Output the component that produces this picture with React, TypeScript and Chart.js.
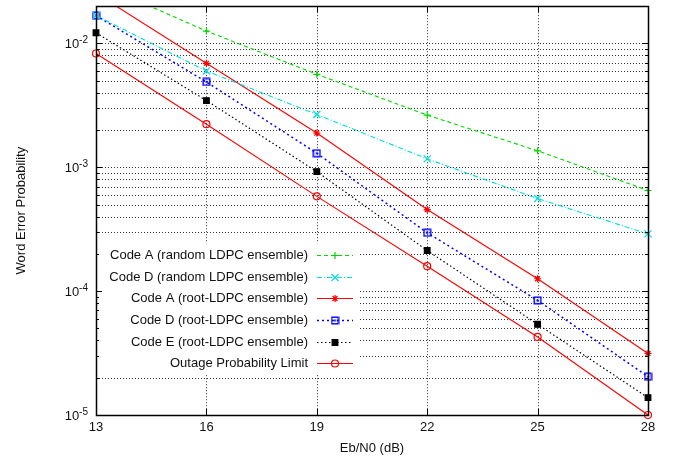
import React, { useEffect, useRef } from 'react';
import { Chart, registerables } from 'chart.js';
import { drawPoint } from 'chart.js/helpers';

Chart.register(...registerables);

// ---- data ----
const ebn0 = [13, 16, 19, 22, 25, 28];
const codeARandom = [0.031, 0.0126, 0.00564, 0.00264, 0.00136, 0.00065];
const codeDRandom = [0.0168, 0.006, 0.00267, 0.00117, 0.00056, 0.00029];
const codeARoot = [0.0254, 0.00692, 0.00189, 0.000456, 0.000126, 0.0000314];
const codeDRoot = [0.0168, 0.00489, 0.0013, 0.000296, 0.0000843, 0.0000204];
const codeERoot = [0.0122, 0.00346, 0.000923, 0.000213, 0.000054, 0.0000138];
const outageLimit = [0.0083, 0.00223, 0.000583, 0.000159, 0.0000427, 0.00001];

const seriesLabels = [
  'Code A (random LDPC ensemble)',
  'Code D (random LDPC ensemble)',
  'Code A (root-LDPC ensemble)',
  'Code D (root-LDPC ensemble)',
  'Code E (root-LDPC ensemble)',
  'Outage Probability Limit',
];

const xTickValues = [13, 16, 19, 22, 25, 28];
const xTickLabels = ['13', '16', '19', '22', '25', '28'];
const yDecades = [1e-5, 1e-4, 1e-3, 1e-2];
const yExponents = ['-5', '-4', '-3', '-2'];
const minorMultiples = [2, 3, 4, 5, 6, 7, 8, 9];
const xMin = 13;
const xMax = 28;
const yMin = 1e-5;
const yMax = 0.02;
const xTitle = 'Eb/N0 (dB)';
const yTitle = 'Word Error Probability';

const FONT = '"Liberation Sans", Arial, Helvetica, sans-serif';

function makeBoxDot(color: string) {
  const c = document.createElement('canvas');
  c.width = 9;
  c.height = 9;
  const g = c.getContext('2d')!;
  g.strokeStyle = color;
  g.lineWidth = 1.4;
  g.strokeRect(1.2, 1.2, 6.6, 6.6);
  g.fillStyle = color;
  g.fillRect(3.5, 3.5, 2, 2);
  return c;
}

const decorPlugin = {
  id: 'decor',
  beforeDatasetsDraw(chart: any) {
    const { ctx, chartArea: a, scales } = chart;
    const xs = scales.x;
    const ys = scales.y;
    ctx.save();
    ctx.strokeStyle = 'rgba(0,0,0,0.8)';
    ctx.lineWidth = 1;
    ctx.setLineDash([1, 2]);
    ctx.beginPath();
    for (const d of yDecades) {
      for (const m of [1, ...minorMultiples]) {
        const v = d * m;
        if (v <= yMin * 1.0001 || v >= yMax * 0.9999) continue;
        const py = Math.round(ys.getPixelForValue(v)) + 0.5;
        ctx.moveTo(a.left, py);
        ctx.lineTo(a.right, py);
      }
    }
    for (const v of xTickValues) {
      if (v <= xMin || v >= xMax) continue;
      const px = Math.round(xs.getPixelForValue(v)) + 0.5;
      ctx.moveTo(px, a.top);
      ctx.lineTo(px, a.bottom);
    }
    ctx.stroke();
    ctx.setLineDash([]);
    // opaque key box
    ctx.fillStyle = '#ffffff';
    ctx.fillRect(a.left + 1, a.top + 237, 263, 131);
    ctx.restore();
  },
  afterDraw(chart: any) {
    const { ctx, chartArea: a, scales } = chart;
    const xs = scales.x;
    const ys = scales.y;
    ctx.save();
    // frame
    ctx.strokeStyle = '#000';
    ctx.lineWidth = 1.5;
    ctx.strokeRect(Math.round(a.left) + 0.5, Math.round(a.top) + 0.5, Math.round(a.right - a.left), Math.round(a.bottom - a.top));
    // ticks
    ctx.lineWidth = 1;
    ctx.beginPath();
    for (const d of yDecades) {
      for (const m of [1, ...minorMultiples]) {
        const v = d * m;
        if (v > yMax * 1.0001) continue;
        const len = m === 1 ? 6 : 3;
        const py = Math.round(ys.getPixelForValue(v)) + 0.5;
        ctx.moveTo(a.left, py);
        ctx.lineTo(a.left + len, py);
        ctx.moveTo(a.right, py);
        ctx.lineTo(a.right - len, py);
      }
    }
    for (const v of xTickValues) {
      const px = Math.round(xs.getPixelForValue(v)) + 0.5;
      ctx.moveTo(px, a.bottom);
      ctx.lineTo(px, a.bottom - 6);
      ctx.moveTo(px, a.top);
      ctx.lineTo(px, a.top + 6);
    }
    ctx.stroke();

    ctx.fillStyle = '#111';
    // x tick labels
    ctx.font = `13px ${FONT}`;
    ctx.textAlign = 'center';
    ctx.textBaseline = 'middle';
    xTickValues.forEach((v, i) => {
      ctx.fillText(xTickLabels[i], xs.getPixelForValue(v), a.bottom + 12.5);
    });
    // y tick labels 10^n
    yDecades.forEach((v, i) => {
      const py = ys.getPixelForValue(v);
      const right = a.left - 8;
      ctx.font = `10px ${FONT}`;
      const ew = ctx.measureText(yExponents[i]).width;
      ctx.textAlign = 'left';
      ctx.fillText(yExponents[i], right - ew, py - 3);
      ctx.font = `13px ${FONT}`;
      ctx.textAlign = 'right';
      ctx.fillText('10', right - ew, py + 1);
    });
    // axis titles
    ctx.font = `13px ${FONT}`;
    ctx.textAlign = 'center';
    ctx.fillText(xTitle, (a.left + a.right) / 2, a.bottom + 33.5);
    ctx.save();
    ctx.translate(21, (a.top + a.bottom) / 2);
    ctx.rotate(-Math.PI / 2);
    ctx.fillText(yTitle, 0, 0);
    ctx.restore();

    // key
    const textRight = a.left + 212;
    const lineStart = a.left + 221;
    const lineEnd = a.left + 257;
    const markX = a.left + 239;
    chart.data.datasets.forEach((ds: any, i: number) => {
      const y = a.top + 249 + i * 21.6;
      ctx.fillStyle = '#111';
      ctx.font = `13px ${FONT}`;
      ctx.textAlign = 'right';
      ctx.textBaseline = 'middle';
      ctx.fillText(ds.label, textRight, y + 0.5);
      ctx.save();
      ctx.strokeStyle = ds.borderColor;
      ctx.lineWidth = ds.borderWidth;
      ctx.setLineDash(ds.borderDash || []);
      ctx.beginPath();
      ctx.moveTo(lineStart, Math.round(y) + 0.5);
      ctx.lineTo(lineEnd, Math.round(y) + 0.5);
      ctx.stroke();
      ctx.setLineDash([]);
      ctx.strokeStyle = ds.pointBorderColor;
      ctx.fillStyle = ds.pointBackgroundColor;
      ctx.lineWidth = ds.pointBorderWidth;
      drawPoint(ctx, { pointStyle: ds.pointStyle, radius: ds.pointRadius, rotation: 0, borderWidth: ds.pointBorderWidth }, markX, Math.round(y) + 0.5);
      ctx.restore();
    });
    ctx.restore();
  },
};

export default function App() {
  const ref = useRef<HTMLCanvasElement>(null);
  useEffect(() => {
    if (!ref.current) return;
    const boxDot = makeBoxDot('#0000ff');
    const clip = { left: 8, top: 0, right: 8, bottom: 8 };
    const mk = (
      i: number,
      values: number[],
      color: string,
      dash: number[],
      style: any,
      radius: number,
      bg: string,
      width = 1.1,
    ) => ({
      label: seriesLabels[i],
      data: ebn0.map((x, k) => ({ x, y: values[k] })),
      borderColor: color,
      backgroundColor: bg,
      borderWidth: width,
      borderDash: dash,
      pointStyle: style,
      pointRadius: radius,
      pointBorderColor: color,
      pointBackgroundColor: bg,
      pointBorderWidth: 1.2,
      tension: 0,
      fill: false,
      clip,
    });
    const chart = new Chart(ref.current, {
      type: 'line',
      data: {
        datasets: [
          mk(0, codeARandom, '#00d800', [4, 3], 'cross', 3.5, 'rgba(0,0,0,0)'),
          mk(1, codeDRandom, '#00dede', [5, 2, 1, 2], 'crossRot', 5, 'rgba(0,0,0,0)'),
          mk(2, codeARoot, '#ff0000', [], 'star', 3.5, 'rgba(0,0,0,0)'),
          mk(3, codeDRoot, '#0000ff', [2, 3], boxDot, 4, 'rgba(0,0,0,0)', 1.5),
          mk(4, codeERoot, '#000000', [1.5, 2.5], 'rect', 4, '#000000', 1.2),
          mk(5, outageLimit, '#ff0000', [], 'circle', 3.5, 'rgba(0,0,0,0)'),
        ] as any,
      },
      options: {
        animation: false,
        responsive: true,
        maintainAspectRatio: false,
        devicePixelRatio: 1,
        layout: { padding: { left: 96, right: 29, top: 5, bottom: 42 } },
        plugins: { legend: { display: false }, tooltip: { enabled: false } },
        events: [],
        scales: {
          x: { type: 'linear', min: xMin, max: xMax, display: false },
          y: { type: 'logarithmic', min: yMin, max: yMax, display: false },
        },
      },
      plugins: [decorPlugin],
    } as any);
    return () => chart.destroy();
  }, []);
  return (
    <div style={{ position: 'fixed', left: 0, top: 0, width: 677, height: 457, background: '#fff' }}>
      <canvas ref={ref} />
    </div>
  );
}
